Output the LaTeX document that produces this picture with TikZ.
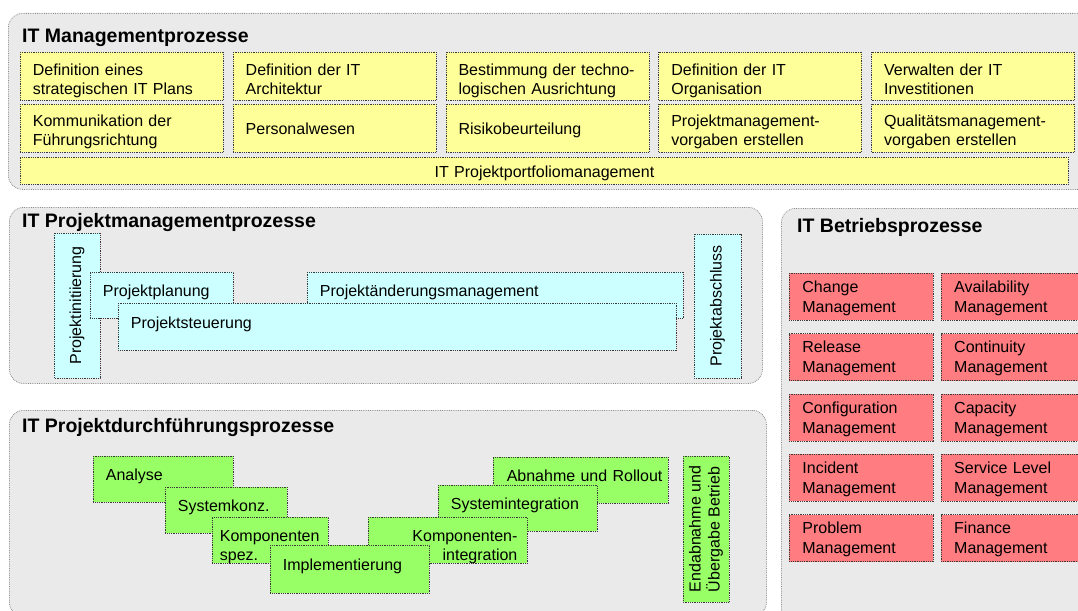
\documentclass[tikz,border=0pt]{standalone}
\usepackage{fontspec}
\setmainfont{Liberation Sans}
\usepackage{xcolor}
\usepackage{tikz}
\usetikzlibrary{positioning}
\definecolor{panelfill}{HTML}{EAEAEA}
\definecolor{panelline}{HTML}{8C8C8C}
\definecolor{boxline}{HTML}{3A3A3A}
\definecolor{mgmtfill}{HTML}{FFFF99}
\definecolor{pmfill}{HTML}{CCFFFF}
\definecolor{execfill}{HTML}{99FF66}
\definecolor{opsfill}{HTML}{FF7C80}
\tikzset{
  panel/.style={rounded corners=14pt,draw=panelline,fill=panelfill,densely dotted,line width=0.8pt,anchor=north west,inner sep=0pt},
  paneltitle/.style={anchor=base west,inner sep=0pt,font=\fontsize{19.5}{23}\selectfont\bfseries},
  box/.style={draw=boxline,densely dotted,line width=0.8pt,inner ysep=0pt,inner xsep=12.5pt,align=left,font=\fontsize{16}{19}\selectfont},
  mgmt/.style={box,fill=mgmtfill,anchor=north west,text width=178pt,text height=23pt,text depth=25pt},
  mgmtone/.style={mgmt,text height=30pt,text depth=18pt},
  pm/.style={box,fill=pmfill,anchor=north west,text height=24pt,text depth=22pt},
  pmup/.style={box,fill=pmfill,rotate=90,align=center,inner xsep=0pt},
  exec/.style={box,fill=execfill,anchor=north west,text height=24pt,text depth=22pt},
  execup/.style={box,fill=execfill,rotate=90,inner xsep=0pt},
  ops/.style={box,fill=opsfill,anchor=north west,text width=118pt,inner xsep=13pt,text height=19pt,text depth=28pt,font=\fontsize{16}{20}\selectfont}
}
\begin{document}
\begin{tikzpicture}[x=1pt,y=-1pt,node distance=4pt and 9pt]
  \useasboundingbox (0,0) rectangle (1078,610);
  \clip (0,0) rectangle (1078,610);
  \node[panel,minimum width=1100pt,minimum height=176pt] (mgmtarea) at (8,13) {};
  \node[panel,minimum width=753pt,minimum height=176pt] (pmarea) at (9,207) {};
  \node[panel,minimum width=757pt,minimum height=206pt] (execarea) at (9,410) {};
  \node[panel,minimum width=330pt,minimum height=420pt] (opsarea) at (781,208) {};
  \node[paneltitle] (mgmttitle) at (22,43) {IT Managementprozesse};
  \node[paneltitle] (pmtitle) at (22,227) {IT Projektmanagementprozesse};
  \node[paneltitle] (exectitle) at (22,432) {IT Projektdurchführungsprozesse};
  \node[paneltitle] (opstitle) at (797,232) {IT Betriebsprozesse};

  \node[mgmt] (plan) at (20,52) {Definition eines\\strategischen IT Plans};
  \node[mgmt,right=of plan] (arch) {Definition der IT\\Architektur};
  \node[mgmt,right=of arch] (tech) {Bestimmung der techno-\\logischen Ausrichtung};
  \node[mgmt,right=of tech] (orga) {Definition der IT\\Organisation};
  \node[mgmt,right=of orga] (invest) {Verwalten der IT\\Investitionen};
  \node[mgmt,text height=22pt,text depth=26pt] (komm) at (20,104) {Kommunikation der\\Führungsrichtung};
  \node[mgmtone,right=of komm] (hr) {Personalwesen};
  \node[mgmtone,right=of hr] (risk) {Risikobeurteilung};
  \node[mgmt,text height=22pt,text depth=26pt,right=of risk] (pmrules) {Projektmanagement-\\vorgaben erstellen};
  \node[mgmt,text height=22pt,text depth=26pt,right=of pmrules] (qmrules) {Qualitätsmanagement-\\vorgaben erstellen};
  \node[mgmt,align=center,text width=1023pt,text height=20pt,text depth=7pt] (portfolio) at (20,157) {IT Projektportfoliomanagement};

  \node[pmup,minimum width=145pt,minimum height=46pt] (init) at (77,305.5) {Projektinitiierung};
  \node[pm,text width=118pt] (planung) at (90,272) {Projektplanung};
  \node[pm,text width=351pt] (change) at (307,272) {Projektänderungsmanagement};
  \node[pm,text width=533pt,text height=25.5pt,text depth=21.5pt] (steuer) at (118,303) {Projektsteuerung};
  \node[pmup,minimum width=144pt,minimum height=47pt] (abschluss) at (717.5,306) {Projektabschluss};

  \node[exec,text width=115pt] (analyse) at (93,456) {Analyse};
  \node[exec,text width=97pt] (syskonz) at (165,487) {Systemkonz.};
  \node[exec,text width=101pt,inner xsep=7.5pt] (kompspez) at (212,517) {Komponenten\\spez.};
  \node[exec,text width=163.5pt,inner xsep=6pt,align=right] (rollout) at (492.5,457) {Abnahme und Rollout};
  \node[exec,text width=134pt] (sysint) at (438,485) {Systemintegration};
  \node[exec,text width=139pt,inner xsep=10pt,align=right] (kompint) at (368,517) {Komponenten-\\integration\hspace*{4pt}};
  \node[exec,text width=134pt,text height=25pt,text depth=23pt] (impl) at (270,545) {Implementierung};
  \node[execup,align=left,minimum width=146pt,minimum height=46pt] (uebergabe) at (706,529) {Endabnahme und\\Übergabe Betrieb};

  \node[ops] (changemgmt) at (789,273) {Change\\Management};
  \node[ops,below=12.5pt of changemgmt] (release) {Release\\Management};
  \node[ops,below=12.5pt of release] (config) {Configuration\\Management};
  \node[ops,below=12.5pt of config] (incident) {Incident\\Management};
  \node[ops,below=12.5pt of incident] (problem) {Problem\\Management};
  \node[ops,right=7pt of changemgmt] (avail) {Availability\\Management};
  \node[ops,right=7pt of release] (contin) {Continuity\\Management};
  \node[ops,right=7pt of config] (capa) {Capacity\\Management};
  \node[ops,right=7pt of incident] (sla) {Service Level\\Management};
  \node[ops,right=7pt of problem] (finance) {Finance\\Management};
\end{tikzpicture}
\end{document}
